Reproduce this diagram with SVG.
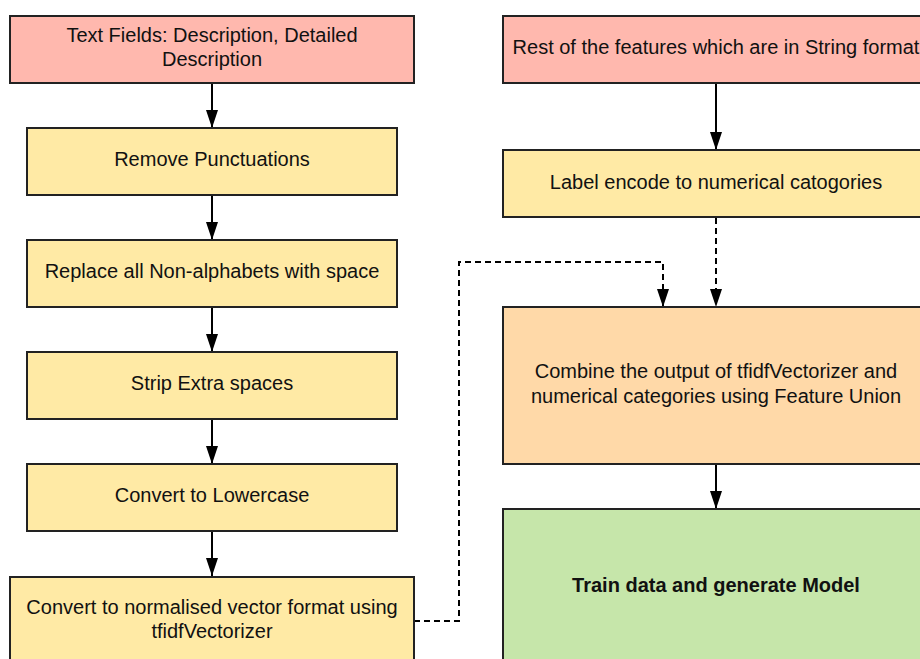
<svg xmlns="http://www.w3.org/2000/svg" width="920" height="659" viewBox="0 0 920 659">
<defs>
<marker id="ah" markerWidth="18" markerHeight="12" refX="18" refY="6" orient="auto" markerUnits="userSpaceOnUse" viewBox="0 0 18 12">
<path d="M0,0 L18,6 L0,12 Z" fill="#000"/>
</marker>
<style>
.b{stroke:#222;stroke-width:2}
.pink{fill:#ffb8ae}
.yel{fill:#ffeaa5}
.org{fill:#ffd9a8}
.grn{fill:#c6e6aa}
text{font-family:"Liberation Sans",Arial,sans-serif;font-size:20px;fill:#111;text-anchor:middle}
.bold{font-weight:bold}
.c{fill:none;stroke:#000;stroke-width:2}
.d{stroke-dasharray:6,4}
</style>
</defs>
<g id="connectors">
<line class="c" x1="212" y1="83" x2="212" y2="128" marker-end="url(#ah)"/>
<line class="c" x1="212" y1="195" x2="212" y2="240" marker-end="url(#ah)"/>
<line class="c" x1="212" y1="307" x2="212" y2="352" marker-end="url(#ah)"/>
<line class="c" x1="212" y1="419" x2="212" y2="464" marker-end="url(#ah)"/>
<line class="c" x1="212" y1="531" x2="212" y2="576" marker-end="url(#ah)"/>
<line class="c" x1="716" y1="83" x2="716" y2="150" marker-end="url(#ah)"/>
<line class="c d" x1="716" y1="218" x2="716" y2="307" marker-end="url(#ah)"/>
<polyline class="c d" points="414,621 459,621 459,262 663,262 663,307" marker-end="url(#ah)"/>
<line class="c" x1="716" y1="464" x2="716" y2="509" marker-end="url(#ah)"/>
</g>
<g id="n1">
<rect class="b pink" x="10" y="16" width="404" height="67"/>
<text x="212" y="42">Text Fields: Description, Detailed</text>
<text x="212" y="66">Description</text>
</g>
<g id="n2">
<rect class="b yel" x="27" y="128" width="370" height="67"/>
<text x="212" y="166">Remove Punctuations</text>
</g>
<g id="n3">
<rect class="b yel" x="27" y="240" width="370" height="67"/>
<text x="212" y="278">Replace all Non-alphabets with space</text>
</g>
<g id="n4">
<rect class="b yel" x="27" y="352" width="370" height="67"/>
<text x="212" y="390">Strip Extra spaces</text>
</g>
<g id="n5">
<rect class="b yel" x="27" y="464" width="370" height="67"/>
<text x="212" y="502">Convert to Lowercase</text>
</g>
<g id="n6">
<rect class="b yel" x="10" y="577" width="404" height="100"/>
<text x="212" y="614">Convert to normalised vector format using</text>
<text x="212" y="638">tfidfVectorizer</text>
</g>
<g id="r1">
<rect class="b pink" x="503" y="16" width="426" height="67"/>
<text x="716" y="54">Rest of the features which are in String format</text>
</g>
<g id="r2">
<rect class="b yel" x="503" y="150" width="426" height="67"/>
<text x="716" y="189">Label encode to numerical catogories</text>
</g>
<g id="r3">
<rect class="b org" x="503" y="307" width="426" height="157"/>
<text x="716" y="378">Combine the output of tfidfVectorizer and</text>
<text x="716" y="403">numerical categories using Feature Union</text>
</g>
<g id="r4">
<rect class="b grn" x="503" y="509" width="426" height="170"/>
<text class="bold" x="716" y="592">Train data and generate Model</text>
</g>
</svg>
